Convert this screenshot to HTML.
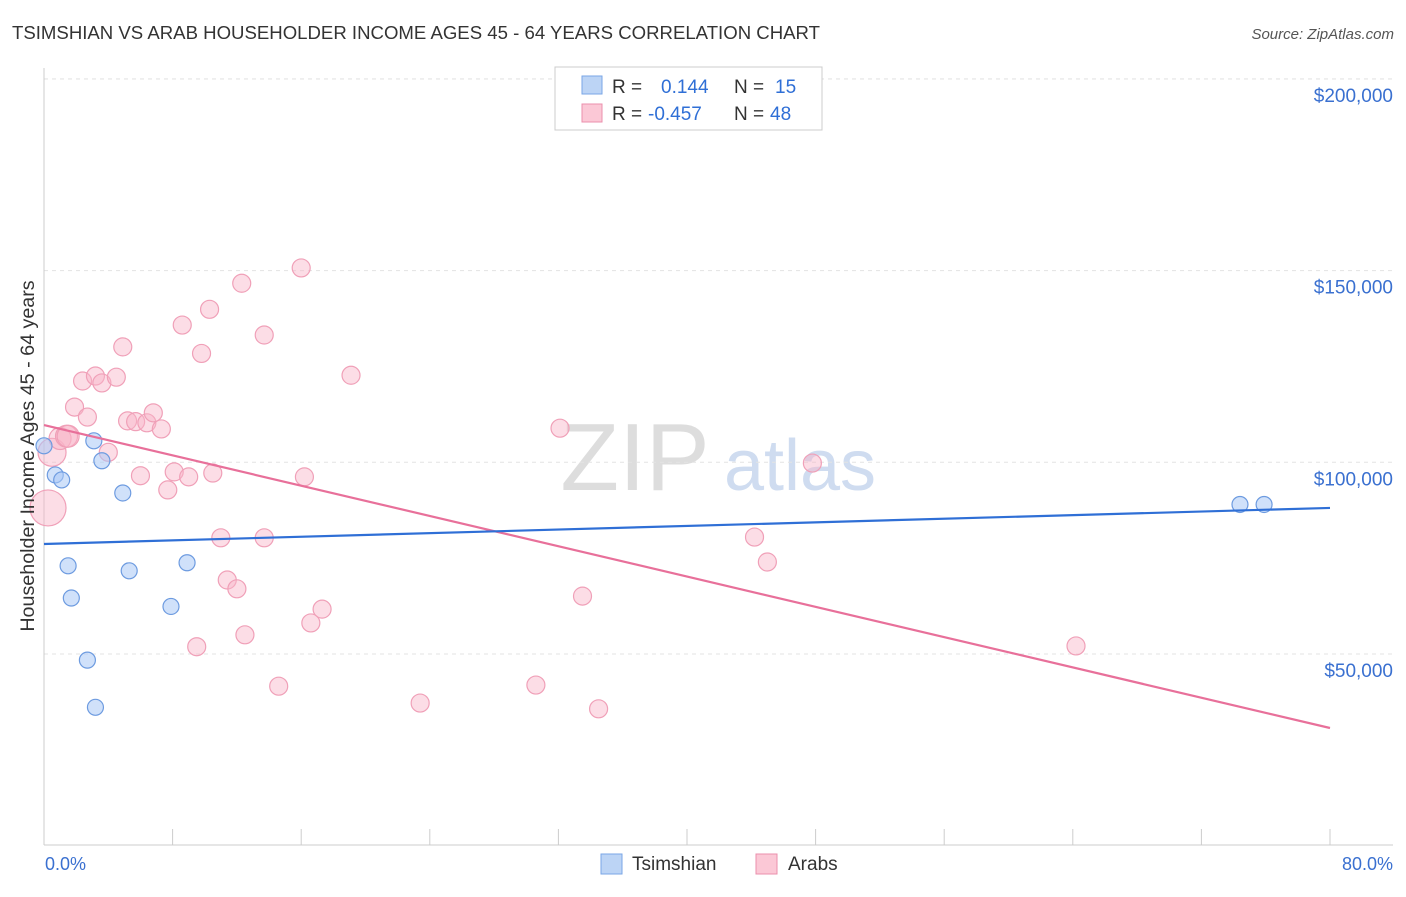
<!DOCTYPE html>
<html><head><meta charset="utf-8"><style>
body{margin:0;background:#fff;font-family:"Liberation Sans",sans-serif}
svg text{font-family:"Liberation Sans",sans-serif}
</style></head><body>
<svg id="c" width="1406" height="892">
<text x="12" y="39" font-size="18.6" fill="#333">TSIMSHIAN VS ARAB HOUSEHOLDER INCOME AGES 45 - 64 YEARS CORRELATION CHART</text>
<text x="1394" y="39" font-size="15" fill="#555" text-anchor="end" font-style="italic">Source: ZipAtlas.com</text>
<g><text x="635" y="490" font-size="96" fill="#ddd" text-anchor="middle" font-family="Liberation Serif">ZIP</text><text x="800" y="490" font-size="72" fill="#cfdcf0" text-anchor="middle">atlas</text></g>
<g id="grid"></g><g id="axes"></g><g id="marks"></g>
<text transform="translate(34,456) rotate(-90)" font-size="19.7" fill="#333" text-anchor="middle">Householder Income Ages 45 - 64 years</text>
<text x="45" y="870" font-size="18" fill="#3a70d0">0.0%</text>
<text x="1393" y="870" font-size="18" fill="#3a70d0" text-anchor="end">80.0%</text>
<g>
<rect x="555" y="67" width="267" height="63" fill="#fff" stroke="#ccc"/>
<rect x="582" y="76" width="20" height="18" fill="#bcd4f5" stroke="#7aa6e6"/>
<rect x="582" y="104" width="20" height="18" fill="#fbc8d6" stroke="#eb8fac"/>
<text x="612" y="93" font-size="19" fill="#333">R =</text><text x="661" y="93" font-size="19" fill="#2f6fd6">0.144</text>
<text x="734" y="93" font-size="19" fill="#333">N =</text><text x="775" y="93" font-size="19" fill="#2f6fd6">15</text>
<text x="612" y="120" font-size="19" fill="#333">R =</text><text x="648" y="120" font-size="19" fill="#2f6fd6">-0.457</text>
<text x="734" y="120" font-size="19" fill="#333">N =</text><text x="770" y="120" font-size="19" fill="#2f6fd6">48</text>
</g>
<g>
<rect x="601" y="854" width="21" height="20" fill="#bcd4f5" stroke="#7aa6e6"/>
<text x="632" y="870" font-size="19" fill="#333">Tsimshian</text>
<rect x="756" y="854" width="21" height="20" fill="#fbc8d6" stroke="#eb8fac"/>
<text x="788" y="870" font-size="19" fill="#333">Arabs</text>
</g>
</svg>
<script>
const yTicks=[50000,100000,150000,200000];
const yTickLabels=["$50,000","$100,000","$150,000","$200,000"];
const tsX=[0.0,0.7,1.1,1.5,1.7,2.7,3.1,3.2,3.6,4.9,5.3,7.9,8.9,74.4,75.9];
const tsY=[104.3,96.7,95.4,73.0,64.6,48.4,105.6,36.1,100.4,92.0,71.7,62.4,73.8,89.0,89.0];
const arX=[0.25,0.5,1.0,1.4,1.5,1.9,2.4,2.7,3.2,3.6,4.0,4.5,4.9,5.2,5.7,6.0,6.4,6.8,7.3,7.7,8.1,8.6,9.0,9.5,9.8,10.3,10.5,11.0,11.4,12.0,12.3,12.5,13.7,13.7,14.6,16.0,16.2,16.6,17.3,19.1,23.4,30.6,32.1,33.5,34.5,44.2,45.0,47.8,64.2];
const arY=[88.1,102.6,106.2,106.8,106.8,114.4,121.2,111.8,122.5,120.7,102.6,122.2,130.1,110.8,110.6,96.5,110.3,112.9,108.7,92.8,97.5,135.8,96.2,51.9,128.4,139.9,97.2,80.3,69.3,67.0,146.7,55.0,133.2,80.3,41.6,150.7,96.2,58.1,61.7,122.7,37.2,41.9,108.9,65.1,35.7,80.5,74.0,99.8,52.1];
const arR=[18,14,11,11,11,9,9,9,9,9,9,9,9,9,9,9,9,9,9,9,9,9,9,9,9,9,9,9,9,9,9,9,9,9,9,9,9,9,9,9,9,9,9,9,9,9,9,9,9];
const tsTrendX=[0,80];const tsTrendY=[78.7,88.1];
const arTrendX=[0,80];const arTrendY=[109.7,30.7];
const X=p=>44+p*16.075, Y=v=>845.7-v*3.834;
const NS="http://www.w3.org/2000/svg";
function mk(parent,tag,attrs){const e=document.createElementNS(NS,tag);for(const k in attrs)e.setAttribute(k,attrs[k]);document.getElementById(parent).appendChild(e);return e;}
yTicks.forEach((t,i)=>{
 const l=mk('grid','line',{x1:44,x2:1393,y1:Y(t/1000),y2:Y(t/1000),stroke:'#e3e3e3','stroke-dasharray':'4,4'});
 
 
 const tx=mk('grid','text',{x:1393,y:Y(t/1000)+23,'font-size':19,fill:'#3a70d0','text-anchor':'end'});
 tx.textContent=yTickLabels[i];
 
 
});
const topGrid=mk('grid','line',{x1:44,x2:1393,y1:79,y2:79,stroke:'#e3e3e3','stroke-dasharray':'4,4'});


let a=mk('axes','line',{x1:44,x2:44,y1:68,y2:845,stroke:'#ccc'});


a=mk('axes','line',{x1:44,x2:1393,y1:845,y2:845,stroke:'#ccc'});


for(let p=0;p<=80;p+=8){const t=mk('axes','line',{x1:X(p),x2:X(p),y1:829,y2:845,stroke:'#ccc'});
 
 }
arX.forEach((x,i)=>{const c=mk('marks','circle',{cx:X(x),cy:Y(arY[i]),r:arR[i],fill:'rgba(248,180,200,0.45)',stroke:'#f0a0b8','stroke-width':1.2});
 
 });
tsX.forEach((x,i)=>{const c=mk('marks','circle',{cx:X(x),cy:Y(tsY[i]),r:8,fill:'rgba(170,200,245,0.55)',stroke:'#6d9be0','stroke-width':1.2});
 
 });
let tl=mk('marks','line',{x1:X(arTrendX[0]),y1:Y(arTrendY[0]),x2:X(arTrendX[1]),y2:Y(arTrendY[1]),stroke:'#e8709a','stroke-width':2.2});


tl=mk('marks','line',{x1:X(tsTrendX[0]),y1:Y(tsTrendY[0]),x2:X(tsTrendX[1]),y2:Y(tsTrendY[1]),stroke:'#2f6fd6','stroke-width':2.2});


</script>
</body></html>
